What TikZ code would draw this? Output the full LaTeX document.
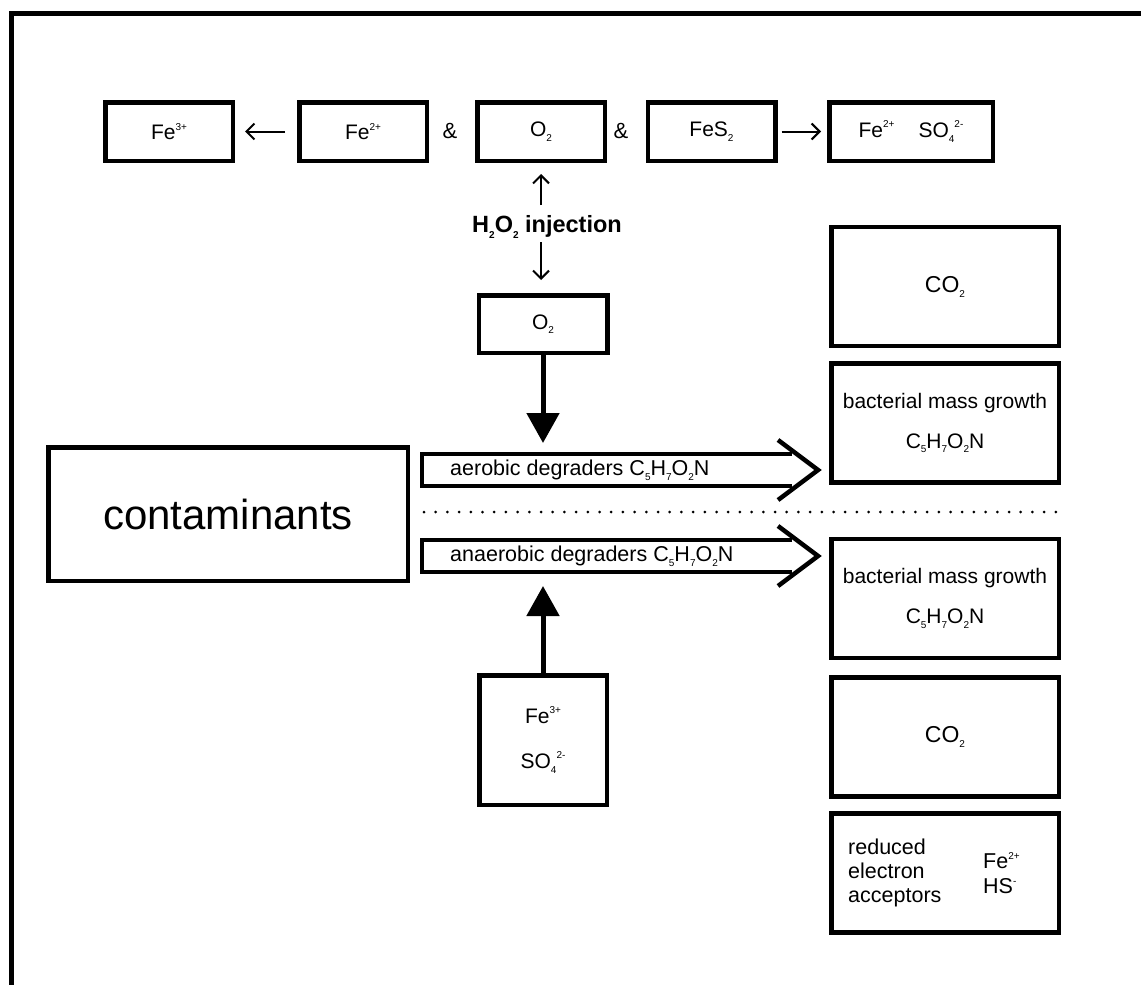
\documentclass[tikz,border=0pt]{standalone}
\usepackage{fontspec}
\setmainfont{Liberation Sans}
\usetikzlibrary{arrows.meta}
\newcommand{\ionup}[1]{\raisebox{0.45em}{\fontsize{10}{10}\selectfont #1}}
\newcommand{\ionlow}[1]{\raisebox{-0.22em}{\fontsize{10}{10}\selectfont #1}}
\newcommand{\cbio}{C\ionlow{5}H\ionlow{7}O\ionlow{2}N}

\begin{document}
\begin{tikzpicture}[x=1pt, y=-1pt,
    box/.style={draw, line width=4.5pt, inner sep=0pt, font=\fontsize{21}{24}\selectfont},
    topbox/.style={box, minimum width=127.5pt, minimum height=58.5pt},
    sidebox/.style={box, minimum width=227.5pt, minimum height=119pt, font=\fontsize{23}{24}\selectfont},
    thinarrow/.style={line width=2pt, -{Straight Barb[length=8pt,width=16pt]}},
    fatarrow/.style={line width=5pt, -{Triangle[length=30pt,width=32pt]}},
    hollow/.style={line width=4.5pt}]
    \useasboundingbox (0,0) rectangle (1141,985);
    % outer frame
    \draw[line width=5pt] (11.5,985) -- (11.5,13) -- (1141,13);
    % top row: pyrite oxidation
    \node[topbox] (fe3) at (169,131.5) {Fe\ionup{3+}};
    \node[topbox] (fe2) at (363,131.5) {Fe\ionup{2+}};
    \node[topbox] (o2top) at (541,131.5) {O\ionlow{2}};
    \node[topbox] (fes2) at (711.5,131.5) {FeS\ionlow{2}};
    \node[topbox, minimum width=163.5pt] (fe2so4) at (911,131.5) {Fe\ionup{2+}\hspace{24pt}SO\ionlow{4}\ionup{2-}};
    \node[font=\fontsize{22}{24}\selectfont] (and1) at (450,131) {\&};
    \node[font=\fontsize{22}{24}\selectfont] (and2) at (621,131) {\&};
    \draw[thinarrow, shorten <=12pt, shorten >=10pt] (fe2) -- (fe3);
    \draw[thinarrow, shorten <=4pt, shorten >=6pt] (fes2) -- (fe2so4);
    % injection
    \node[font=\bfseries\fontsize{23.5}{24}\selectfont, inner sep=1pt] (inj) at (547,227) {H\ionlow{2}O\ionlow{2} injection};
    \node[box, minimum width=128.5pt, minimum height=57.5pt] (o2low) at (543,324) {O\ionlow{2}};
    \coordinate (injtop) at (541,205);
    \coordinate (injbot) at (541,242);
    \draw[thinarrow, shorten >=11pt] (injtop) -- (o2top);
    \draw[thinarrow, shorten >=13pt] (injbot) -- (injbot |- o2low.north);
    % contaminants and degraders
    \node[box, minimum width=359.5pt, minimum height=133.5pt, font=\fontsize{42}{48}\selectfont] (cont) at (228,514) {contaminants};
    \foreach \yc/\txt/\nm in {470/aerobic/aero, 556/anaerobic/anaero} {
        \draw[hollow] (792,\yc-16) -- (422,\yc-16) -- (422,\yc+16) -- (792,\yc+16);
        \draw[hollow] (778,\yc-30) -- (818,\yc) -- (778,\yc+30);
        \node[anchor=west, inner sep=0pt, font=\fontsize{21.5}{24}\selectfont] (\nm) at (450,\yc) {\txt\ degraders \cbio};
    }
    \draw[line width=3pt, line cap=round, dash pattern=on 0pt off 11.7pt] (424,512) -- (1065,512);
    % electron acceptors
    \node[box, minimum width=127.5pt, minimum height=129.5pt, align=center, font=\fontsize{21}{45}\selectfont] (fe3so4) at (543,740) {Fe\ionup{3+}\\SO\ionlow{4}\ionup{2-}};
    \coordinate (aerotop) at (543,452);
    \coordinate (anaerobot) at (543,574);
    \draw[fatarrow, shorten >=9pt] (o2low) -- (aerotop);
    \draw[fatarrow, shorten >=12pt] (fe3so4) -- (anaerobot);
    % products
    \node[sidebox] (co2a) at (945,286.5) {CO\ionlow{2}};
    \node[sidebox, align=center, font=\fontsize{21}{40}\selectfont] (bacta) at (945,423) {bacterial mass growth\\\cbio};
    \node[sidebox, align=center, font=\fontsize{21}{40}\selectfont] (bactb) at (945,598.5) {bacterial mass growth\\\cbio};
    \node[sidebox] (co2b) at (945,737) {CO\ionlow{2}};
    \node[sidebox] (red) at (945,873) {};
    \node[anchor=west, align=left, inner sep=0pt, font=\fontsize{21.5}{24}\selectfont] (redtxt) at ([xshift=19pt]red.west) {reduced\\electron\\acceptors};
    \node[anchor=west, align=left, inner sep=0pt, font=\fontsize{21.5}{25}\selectfont] (redions) at ([xshift=154pt]red.west) {Fe\ionup{2+}\\HS\ionup{-}};
\end{tikzpicture}
\end{document}
